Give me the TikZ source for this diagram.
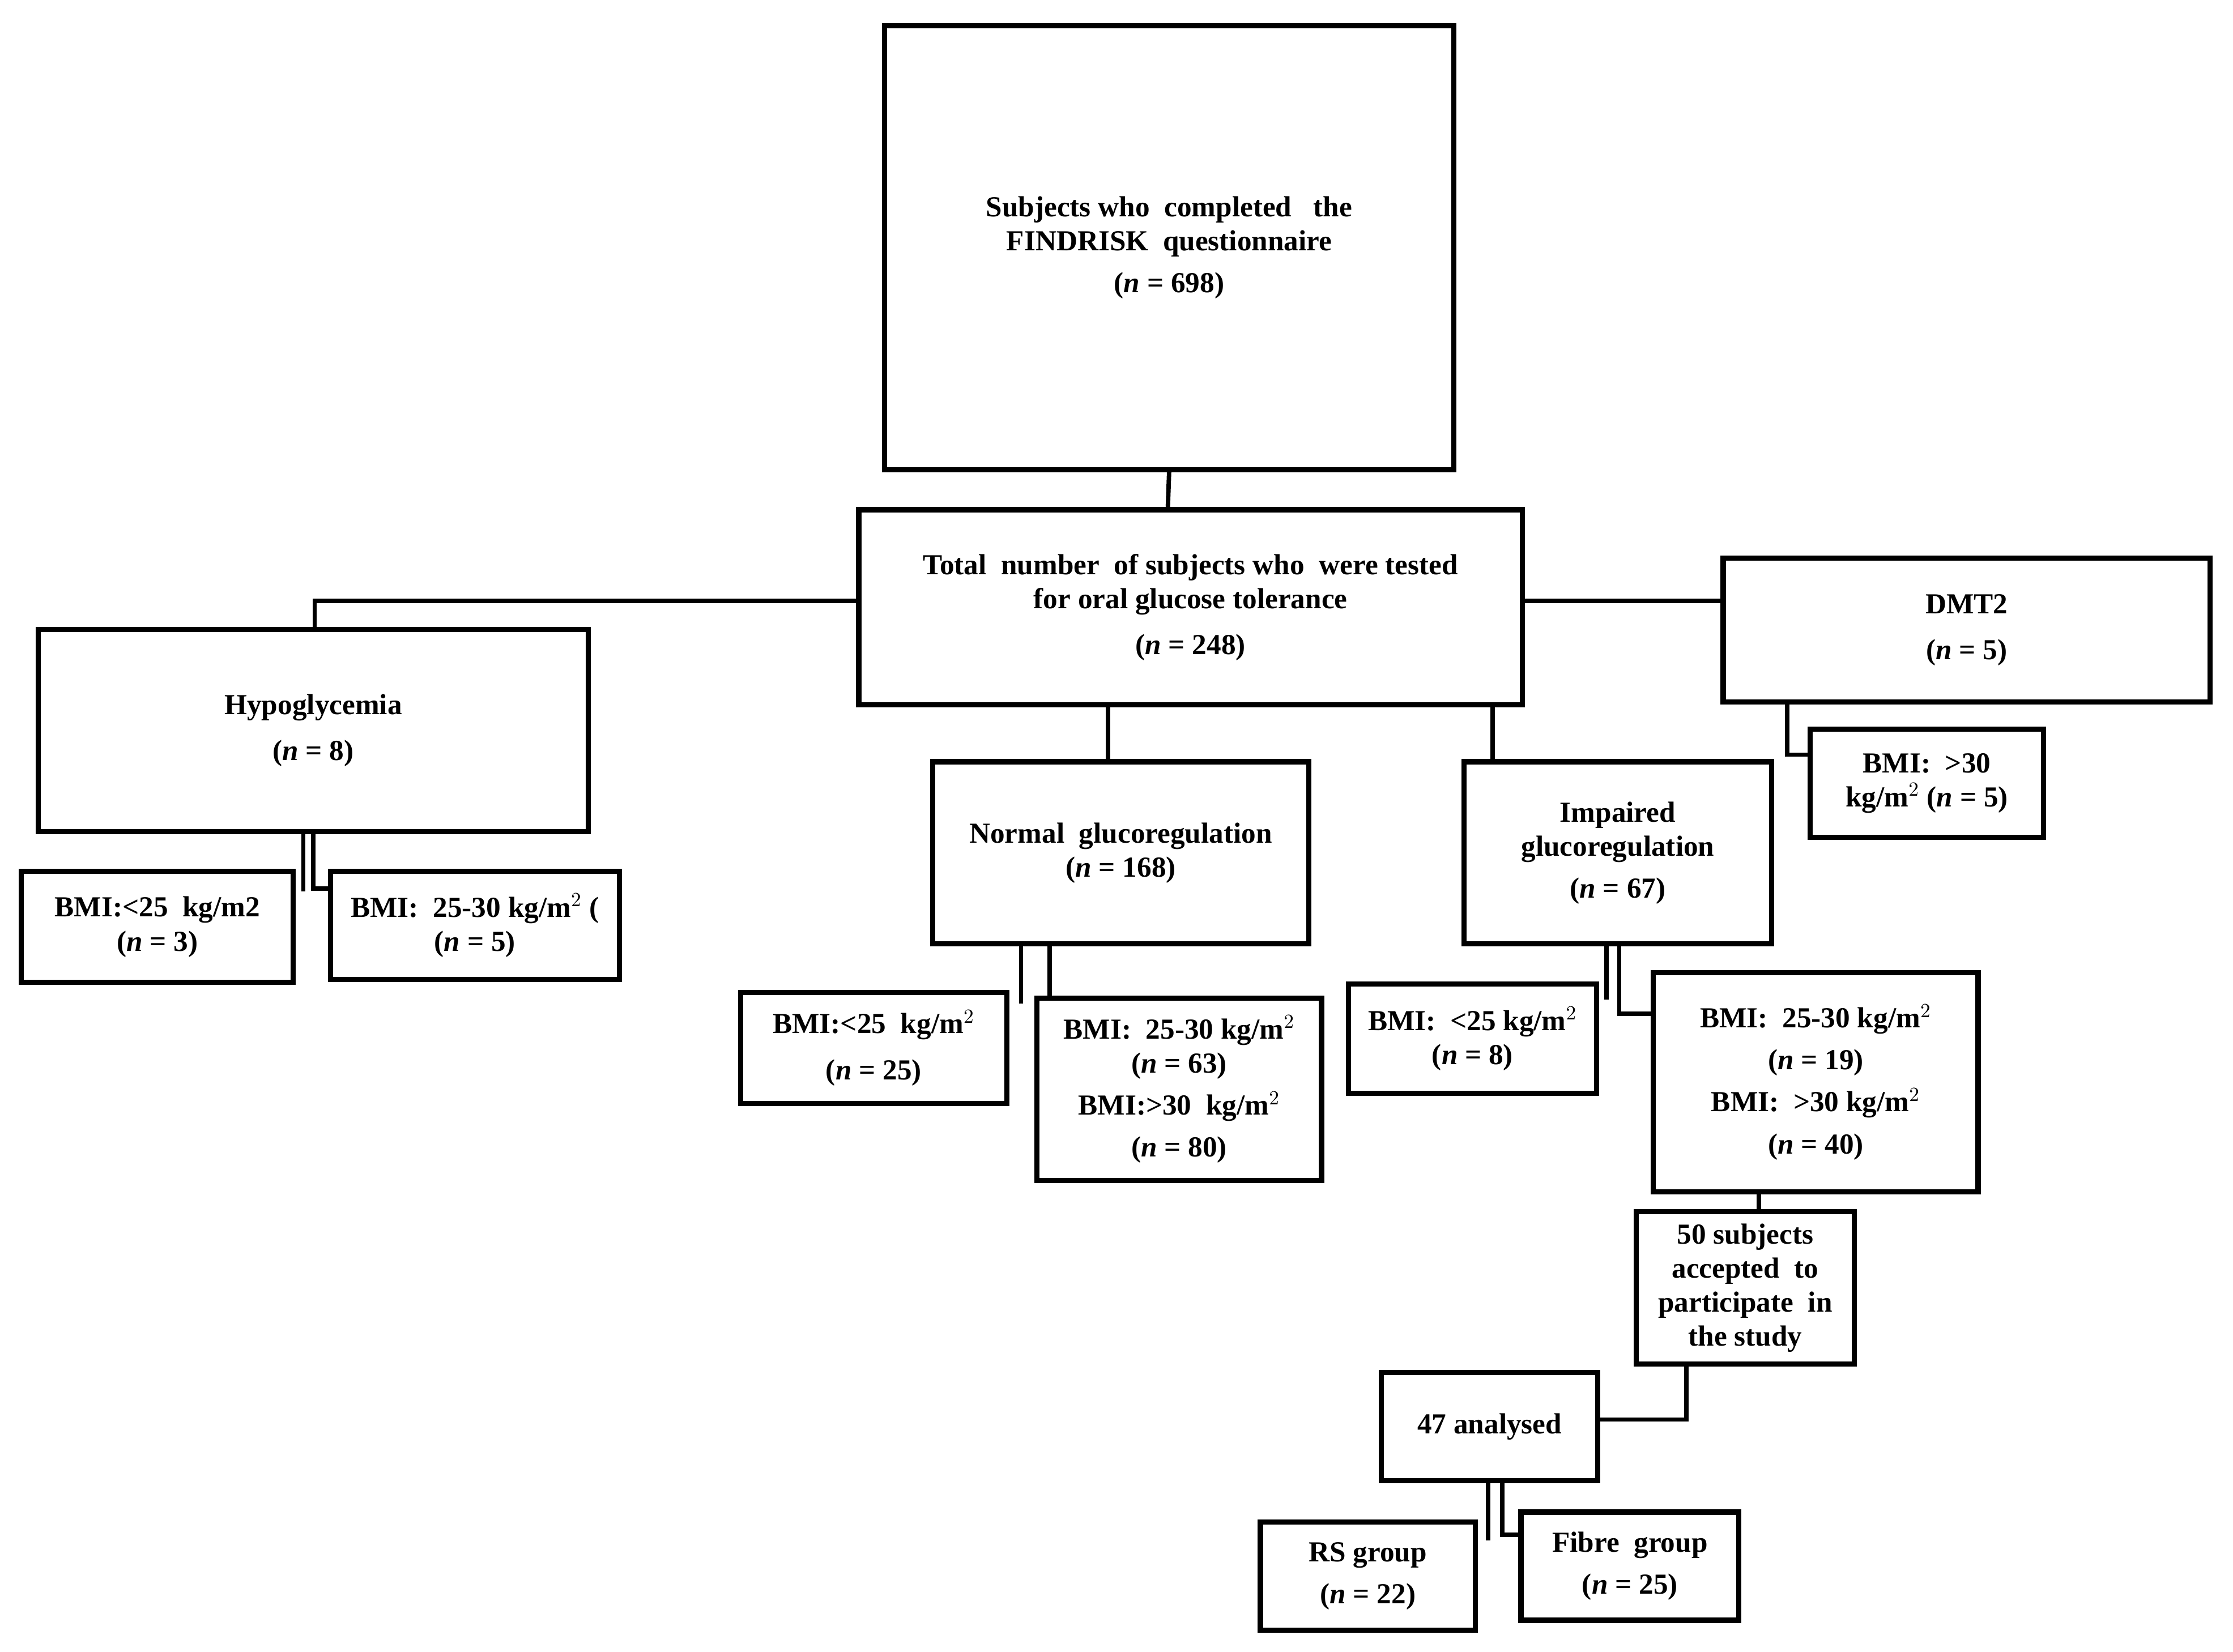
\documentclass[tikz,border=0pt]{standalone}
\usepackage{fontspec}
\setmainfont{Liberation Serif}
\usetikzlibrary{calc}
\begin{document}
\begin{tikzpicture}[x=0.025cm,y=-0.025cm,
  box/.style={draw,line width=2.6pt,align=center,font=\bfseries\fontsize{14.5}{17}\selectfont,inner sep=0pt},
  con/.style={line width=2.2pt}]
\useasboundingbox (0,0) rectangle (1568,1160);
\newcommand\bx[6]{\node[box,minimum width={(#4-#2)*0.025cm},minimum height={(#5-#3)*0.025cm}] (#1) at ({(#2+#4)/2},{(#3+#5)/2}) {#6};}
\bx{top}{621}{18}{1021}{330}{Subjects who\ \ completed\ \ \ the\\FINDRISK\ \ questionnaire\\[4pt](\textit{n} = 698)}
\bx{total}{603}{358}{1069}{495}{Total\ \ number\ \ of subjects who\ \ were tested\\for oral glucose tolerance\\[6pt](\textit{n} = 248)}
\bx{dmt}{1210}{392}{1552}{493}{DMT2\\[6pt](\textit{n} = 5)}
\bx{dmtb}{1271}{512}{1435}{588}{BMI:\ \ >30\\kg/m$^2$ (\textit{n} = 5)}
\bx{hypo}{27}{442}{413}{584}{Hypoglycemia\\[6pt](\textit{n} = 8)}
\bx{ha}{15}{612}{206}{690}{BMI:<25\ \ kg/m2\\(\textit{n} = 3)}
\bx{hb}{232}{612}{435}{688}{BMI:\ \ 25-30 kg/m$^2$ (\\(\textit{n} = 5)}
\bx{norm}{655}{535}{919}{663}{Normal\ \ glucoregulation\\(\textit{n} = 168)}
\bx{imp}{1028}{535}{1244}{663}{Impaired\\glucoregulation\\[4pt](\textit{n} = 67)}
\bx{na}{520}{697}{707}{775}{BMI:<25\ \ kg/m$^2$\\[6pt](\textit{n} = 25)}
\bx{nb}{728}{701}{928}{829}{BMI:\ \ 25-30 kg/m$^2$\\(\textit{n} = 63)\\[4pt]BMI:>30\ \ kg/m$^2$\\[4pt](\textit{n} = 80)}
\bx{ia}{947}{691}{1121}{768}{BMI:\ \ <25 kg/m$^2$\\(\textit{n} = 8)}
\bx{ib}{1161}{683}{1389}{837}{BMI:\ \ 25-30 kg/m$^2$\\[4pt](\textit{n} = 19)\\[4pt]BMI:\ \ >30 kg/m$^2$\\[4pt](\textit{n} = 40)}
\bx{fifty}{1149}{851}{1302}{958}{50 subjects\\accepted\ \ to\\participate\ \ in\\the study}
\bx{an}{970}{964}{1122}{1040}{47 analysed}
\bx{rs}{885}{1069}{1036}{1145}{RS group\\[4pt](\textit{n} = 22)}
\bx{fib}{1068}{1062}{1221}{1138}{Fibre\ \ group\\[4pt](\textit{n} = 25)}
% connectors
\draw[con] (820,330 -| top.south) -- (820,358);
\draw[con] (total.west |- 0,422) -- (221,422) -- (221,442);
\draw[con] (total.east |- 0,422) -- (1210,422) -- (1210,432);
\draw[con] (778,495) -- (778,535);
\draw[con] (1048,495) -- (1048,535);
\draw[con] (1255,493) -- (1255,530) -- (1271,530);
\draw[con] (213,584) -- (213,626);
\draw[con] (220,584) -- (220,624) -- (232,624);
\draw[con] (717,663) -- (717,705);
\draw[con] (737,663) -- (737,701);
\draw[con] (1128,663) -- (1128,702);
\draw[con] (1137,663) -- (1137,712) -- (1161,712);
\draw[con] (1235,837) -- (1235,851);
\draw[con] (1184,958) -- (1184,997) -- (1122,997);
\draw[con] (1045,1040) -- (1045,1082);
\draw[con] (1055,1040) -- (1055,1078) -- (1068,1078);
\end{tikzpicture}
\end{document}
